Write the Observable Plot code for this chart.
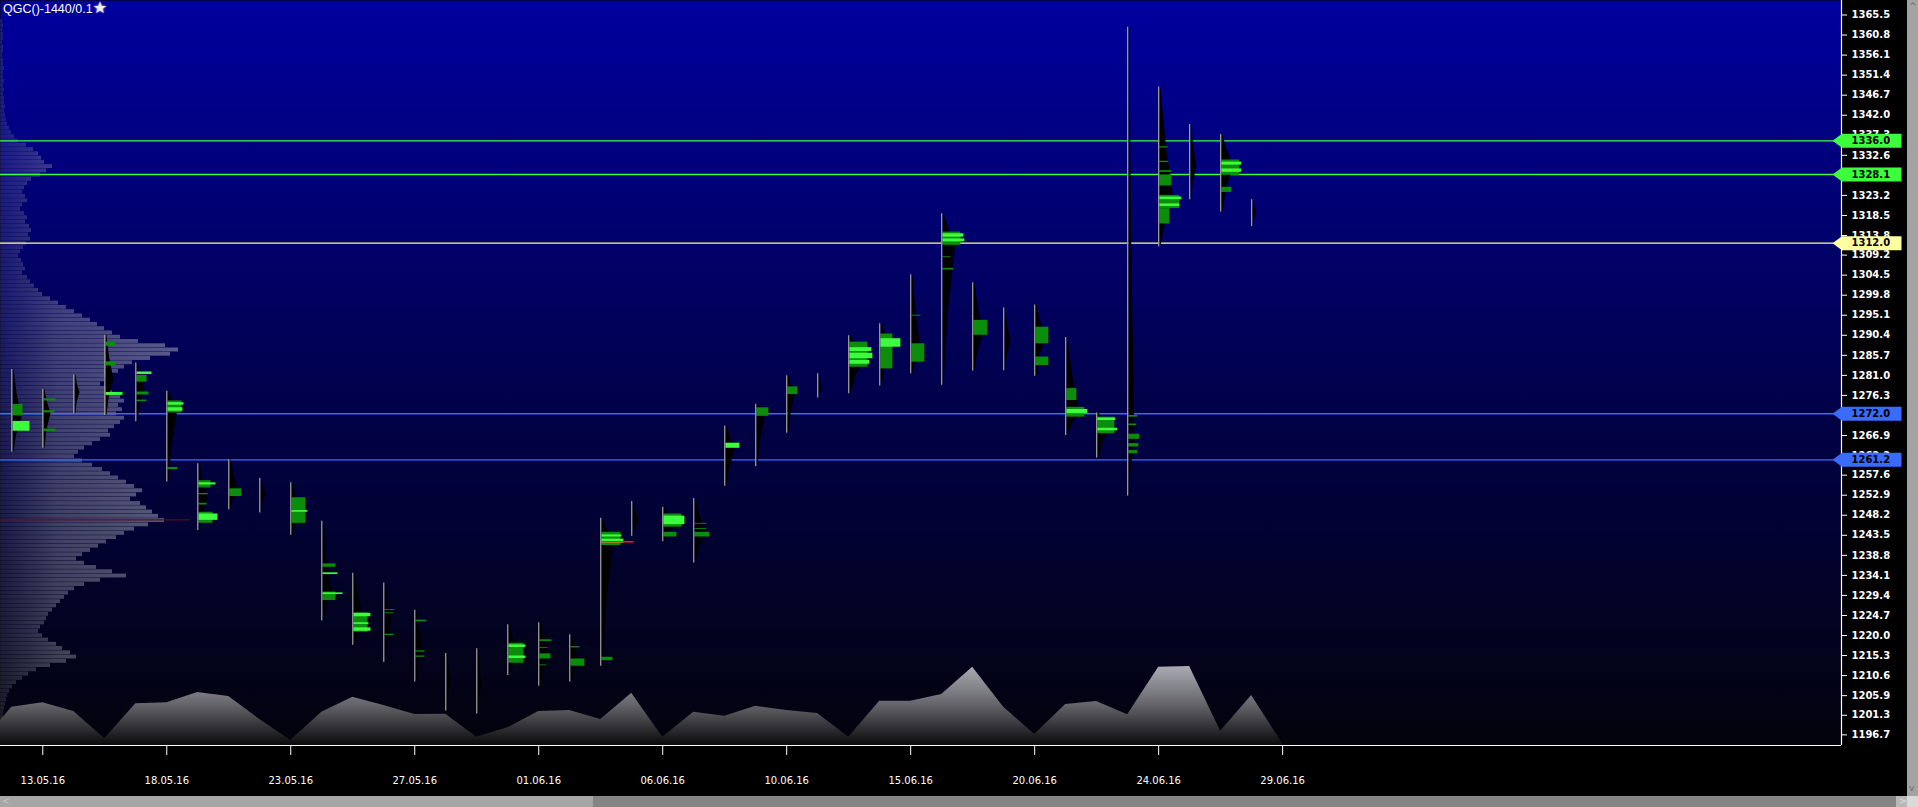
<!DOCTYPE html>
<html><head><meta charset="utf-8">
<script src="https://cdn.jsdelivr.net/npm/d3@7"></script>
<script src="https://cdn.jsdelivr.net/npm/@observablehq/plot@0.6"></script>
<style>
html,body{margin:0;padding:0;background:#000;overflow:hidden;width:1918px;height:807px;}
#wrap{position:relative;width:1918px;height:807px;}
#title{position:absolute;left:3px;top:0px;font:12.5px "Liberation Sans",Arial,sans-serif;color:#fff;line-height:16px;white-space:nowrap;}
#title span{font-family:"DejaVu Sans";color:#ececec;font-size:16px;text-shadow:0 0 2px #fff;}
.sb{position:absolute;}
.arr{position:absolute;font:9px "DejaVu Sans";color:#6a6a6a;line-height:9px;}
</style></head>
<body><div id="wrap"><div id="chart"></div>
<div id="title">QGC()-1440/0.1<span>★</span></div>
<div class="sb" style="left:1907px;top:0;width:11px;height:796px;background:#a3a3a3"></div>
<div class="arr" style="left:1909px;top:2px">^</div>
<div class="arr" style="left:1909px;top:784px">v</div>
<div class="sb" style="left:0;top:796px;width:1907px;height:11px;background:#858585"></div>
<div class="sb" style="left:0;top:796px;width:593px;height:11px;background:#a6a6a6"></div>
<div class="sb" style="left:1896px;top:796px;width:11px;height:11px;background:#b8b8b8"></div>
<div class="arr" style="left:1899px;top:797px;color:#ddd">&gt;</div>
<div class="arr" style="left:2px;top:797px;color:#ccc">&lt;</div>
<div class="sb" style="left:1907px;top:796px;width:11px;height:11px;background:#dadada"></div>
</div>
<script>
// ---------- data ----------
const barHigh = [1282.4,1277.7,1281.1,1290.4,1283.9,1277.3,1260.3,1261.2,1256.9,1255.8,1246.8,1234.6,1232.3,1225.9,1215.8,1216.9,1222.5,1223.0,1220.2,1247.5,1251.4,1250.1,1252.1,1269.1,1274.2,1280.9,1281.4,1290.3,1293.1,1304.6,1318.9,1302.7,1296.8,1297.5,1289.9,1272.2,1362.6,1348.6,1339.8,1337.5,1322.2];
const barLow  = [1263.0,1263.9,1272.0,1271.6,1270.1,1256.0,1244.6,1249.5,1248.7,1243.5,1223.4,1217.7,1213.7,1209.1,1202.3,1201.6,1210.6,1208.1,1209.1,1212.8,1243.3,1242.0,1237.0,1255.0,1259.6,1267.4,1275.7,1276.7,1278.5,1281.4,1278.7,1282.0,1282.1,1280.8,1266.9,1261.6,1252.7,1311.1,1322.2,1319.3,1315.9];
const barPoc  = [1271,1272,1277,1280,1278,1273,1252,1254,1253,1249,1230,1223,1224,1218,1209,1209,1216,1216,1214,1242,1247,1246,1244,1264,1272,1277,1278,1285,1288,1286,1312,1291,1289,1290,1272,1269,1266,1322,1330,1330,1319];
const barPocVol = [9,7,5,8,8,10,9,9,5,10,9,11,7,7,4,4,10,9,9,12,6,13,11,10,9,8,4,15,12,10,13,10,6,10,13,13,6,14,6,12,4];

// green profile segments: [bar, priceTop, priceBottom, volume, shade(1 dark, 2 bright)]
const greenSegs = [
 [0,1274.2,1271.5,10,1],[0,1270.2,1267.9,17,2],
 [1,1275.5,1275.0,12,1],[1,1272.7,1272.2,11,1],[1,1268.4,1267.8,12,1],
 [3,1288.8,1287.8,10,1],[3,1284.2,1283.2,10,1],[3,1277.0,1276.3,17,2],
 [4,1281.8,1281.2,15,2],[4,1281.0,1279.4,10,1],[4,1277.1,1276.4,12,1],[4,1275.2,1274.8,10,1],
 [5,1275.0,1272.2,14,1],[5,1274.6,1274.0,16,2],[5,1273.4,1272.6,15,2],[5,1259.4,1258.9,10,1],
 [6,1256.3,1254.6,12,1],[6,1255.8,1255.3,17,2],[6,1253.3,1253.0,9,1],[6,1251.0,1250.6,8,1],[6,1248.9,1246.3,14,1],[6,1248.5,1247.0,19,2],
 [7,1254.4,1252.6,12,1],
 [9,1252.3,1246.3,14,1],[9,1249.3,1248.9,16,2],
 [10,1236.8,1236.0,13,1],[10,1234.7,1234.3,15,2],[10,1230.2,1228.2,13,1],[10,1230.0,1229.6,20,2],
 [11,1225.3,1220.8,14,1],[11,1225.2,1224.4,17,2],[11,1223.0,1222.6,15,2],[11,1221.8,1221.0,17,2],
 [12,1226.1,1225.9,10,1],[12,1225.3,1225.1,9,1],[12,1220.3,1220.0,9,1],
 [13,1223.6,1223.2,11,1],[13,1216.4,1216.1,9,1],[13,1215.2,1214.9,9,1],
 [16,1218.2,1213.5,15,1],[16,1217.8,1217.2,17,2],[16,1215.2,1214.6,17,2],
 [17,1219.0,1218.6,12,1],[17,1217.2,1217.0,8,1],[17,1215.7,1214.5,11,1],[17,1213.1,1212.9,7,1],
 [18,1217.4,1217.1,9,1],[18,1214.5,1212.8,14,1],
 [19,1244.2,1241.1,19,1],[19,1243.6,1243.1,20,2],[19,1242.6,1241.6,22,2],[19,1214.9,1214.1,11,1],
 [21,1248.5,1245.4,18,1],[21,1248.0,1246.0,21,2],[21,1244.2,1243.1,13,1],
 [22,1246.3,1246.1,12,1],[22,1245.1,1244.9,12,1],[22,1244.2,1243.1,15,1],
 [23,1265.1,1263.9,14,2],
 [24,1273.4,1271.4,12,1],
 [25,1278.3,1276.5,10,1],
 [27,1288.8,1282.9,18,1],[27,1287.5,1286.6,22,2],[27,1286.2,1284.9,23,2],[27,1284.5,1283.6,20,2],
 [28,1290.7,1282.5,12,1],[28,1289.6,1287.6,20,2],
 [29,1288.4,1284.1,13,1],[29,1295.1,1294.9,9,1],
 [30,1314.6,1311.5,18,1],[30,1314.2,1313.4,21,2],[30,1313.0,1312.3,22,2],[30,1308.8,1308.6,8,1],[30,1306.1,1305.7,11,1],
 [31,1293.9,1290.4,14,1],
 [33,1292.3,1288.4,13,1],[33,1285.3,1283.3,13,1],
 [34,1277.9,1275.1,10,1],[34,1273.5,1271.2,18,1],[34,1273.0,1272.0,21,2],
 [35,1271.2,1267.3,17,1],[35,1271.0,1270.4,18,2],[35,1268.6,1268.0,20,2],
 [36,1271.6,1271.2,9,1],[36,1269.6,1269.2,8,1],[36,1267.2,1266.0,11,1],[36,1265.0,1264.2,10,1],[36,1263.4,1262.6,9,1],
 [37,1334.6,1334.3,8,1],[37,1331.2,1330.9,9,1],[37,1329.0,1328.6,12,1],[37,1328.0,1325.4,12,1],[37,1323.2,1320.1,20,1],[37,1322.8,1322.2,22,2],[37,1321.2,1320.6,20,2],[37,1320.1,1316.5,10,1],
 [39,1331.5,1327.9,18,1],[39,1331.0,1330.3,20,2],[39,1329.4,1328.6,20,2],[39,1325.1,1323.9,10,1]
];
// session point-of-control marks: [bar, price, volume]
const pocMarks = [[19,1242.0,32]];

// daily volume (index -1 .. 41)
const volIdx = [-1,0,1,2,3,4,5,6,7,8,9,10,11,12,13,14,15,16,17,18,19,20,21,22,23,24,25,26,27,28,29,30,31,32,33,34,35,36,37,38,39,40,41];
const volume = [2,38.3,42.7,34,6.7,41.7,42.7,53,49,26,5,33.3,48.3,40,31,31.3,8.3,17.7,34,35,26,52.3,8.3,33.3,29.3,39.3,35,32,8.3,44.3,44.3,51,78.3,38.3,11,41,44,30.7,78.3,79,14.3,50,1.7];

// composite volume profile (price, volume)
const compPrice = [1364,1363,1362,1361,1360,1359,1358,1357,1356,1355,1354,1353,1352,1351,1350,1349,1348,1347,1346,1345,1344,1343,1342,1341,1340,1339,1338,1337,1336,1335,1334,1333,1332,1331,1330,1329,1328,1327,1326,1325,1324,1323,1322,1321,1320,1319,1318,1317,1316,1315,1314,1313,1312,1311,1310,1309,1308,1307,1306,1305,1304,1303,1302,1301,1300,1299,1298,1297,1296,1295,1294,1293,1292,1291,1290,1289,1288,1287,1286,1285,1284,1283,1282,1281,1280,1279,1278,1277,1276,1275,1274,1273,1272,1271,1270,1269,1268,1267,1266,1265,1264,1263,1262,1261,1260,1259,1258,1257,1256,1255,1254,1253,1252,1251,1250,1249,1248,1247,1246,1245,1244,1243,1242,1241,1240,1239,1238,1237,1236,1235,1234,1233,1232,1231,1230,1229,1228,1227,1226,1225,1224,1223,1222,1221,1220,1219,1218,1217,1216,1215,1214,1213,1212,1211,1210,1209,1208,1207,1206,1205,1204,1203,1202,1201,1200];
const compVol = [2,3,2,3,3,2,3,3,2,3,3,4,3,3,4,3,4,3,4,4,5,4,5,6,7,9,11,14,18,26,33,38,41,44,52,46,40,31,27,24,22,25,27,22,20,24,27,25,29,31,28,30,26,23,20,18,21,23,25,22,27,30,34,38,42,50,58,66,74,82,90,97,104,112,120,138,165,178,170,150,132,124,118,110,104,100,106,112,120,124,118,122,116,124,120,114,108,110,100,92,84,78,74,82,92,102,110,118,126,134,142,136,130,140,146,152,158,164,148,134,124,116,106,98,90,82,76,84,96,112,126,100,84,74,68,64,60,56,52,48,46,44,40,38,42,48,56,62,70,76,66,50,36,28,22,16,12,9,7,6,5,4,3,3,2];
const compPoc = [{p: 1247.1, v: 190}];

// key levels
const levelPrice = [1336.0, 1328.1, 1312.0, 1272.0, 1261.2];
const levelColor = ["#3cff3c", "#3cff3c", "#ffffa0", "#3a6bff", "#3a6bff"];

// axis ticks
const priceTicks = [1365.5,1360.8,1356.1,1351.4,1346.7,1342.0,1337.3,1332.6,1327.9,1323.2,1318.5,1313.8,1309.2,1304.5,1299.8,1295.1,1290.4,1285.7,1281.0,1276.3,1271.6,1266.9,1262.2,1257.6,1252.9,1248.2,1243.5,1238.8,1234.1,1229.4,1224.7,1220.0,1215.3,1210.6,1205.9,1201.3,1196.7];
const dateTickIdx = [1,5,9,13,17,21,25,29,33,37,41];
const dateLabels = ["13.05.16","18.05.16","23.05.16","27.05.16","01.06.16","06.06.16","10.06.16","15.06.16","20.06.16","24.06.16","29.06.16"];

// ---------- layout ----------
const X_DOMAIN = [-0.3645, 59.03];
const Y_DOMAIN = [1194.21, 1368.90];
const VOL_PER_BAR = 31;          // profile volume units per bar slot
const GAP = 1.2 / VOL_PER_BAR;
const PRICE_PER_VOL = 1 / 4.2647; // volume panel scaling into price space

const bars = barHigh.map((h, i) => ({i, high: h, low: barLow[i]}));
// each session's background profile: thin at the extremes, widest at its POC
const blackPts = barHigh.flatMap((h, i) => {
  const lo = barLow[i], poc = barPoc[i], w = barPocVol[i];
  return [
    {bar: i, p: h, w: 1},
    {bar: i, p: (h + poc) / 2, w: w * 0.45},
    {bar: i, p: poc, w},
    {bar: i, p: (poc + lo) / 2, w: w * 0.4},
    {bar: i, p: lo, w: 1}
  ];
});
const greens = greenSegs.map(([bar, t, b, v, s]) => ({bar, t, b, v, s})).sort((a, b) => a.s - b.s);
const shadeColor = {1: "#0b8c0b", 2: "#3dfc3d"};
const pocs = pocMarks.map(([bar, p, v]) => ({bar, p, v}));
const vols = volIdx.map((i, k) => ({i, v: volume[k]}));
const comp = compPrice.map((p, k) => ({p, v: compVol[k]}));
const levels = levelPrice.map((p, k) => ({p, c: levelColor[k], label: p.toFixed(1)}));
const dateMap = new Map(dateTickIdx.map((d, k) => [d, dateLabels[k]]));
const priceMap = new Map(priceTicks.map(d => [d, d.toFixed(1)]));

const tagSymbol = {draw(ctx) {
  ctx.moveTo(-34.5, 0); ctx.lineTo(-25, -7); ctx.lineTo(34.5, -7);
  ctx.lineTo(34.5, 7); ctx.lineTo(-25, 7); ctx.closePath();
}};

const chart = Plot.plot({
  width: 1918, height: 807,
  marginLeft: 0, marginRight: 77, marginTop: 0, marginBottom: 62,
  style: {background: "#000", color: "#fff", fontFamily: "DejaVu Sans", fontSize: "10px", overflow: "visible"},
  x: {domain: X_DOMAIN, label: null},
  y: {domain: Y_DOMAIN, label: null},
  color: {type: "identity"},
  marks: [
    Plot.frame({fill: "url(#bgGrad)", stroke: null}),
    Plot.rect(comp, {x1: () => X_DOMAIN[0], x2: d => X_DOMAIN[0] + d.v / VOL_PER_BAR,
      y1: d => d.p - 0.5, y2: d => d.p + 0.5, insetTop: 0.4, fill: "url(#profGrad)"}),
    Plot.ruleY(compPoc, {y: "p", x1: () => X_DOMAIN[0], x2: d => X_DOMAIN[0] + d.v / VOL_PER_BAR, stroke: "#5c0c22", strokeWidth: 1.2}),
    Plot.areaY(vols, {x: "i", y1: () => Y_DOMAIN[0], y2: d => Y_DOMAIN[0] + d.v * PRICE_PER_VOL, fill: "url(#volGrad)", clip: true}),
    Plot.ruleY(levels, {y: "p", stroke: "c", strokeWidth: 1.3}),
    Plot.areaX(blackPts, {y: "p", x1: d => d.bar + GAP, x2: d => d.bar + GAP + d.w / VOL_PER_BAR, z: "bar", fill: "#000"}),
    Plot.rect(greens, {x1: d => d.bar + GAP, x2: d => d.bar + GAP + d.v / VOL_PER_BAR, y1: "b", y2: "t", fill: d => shadeColor[d.s]}),
    Plot.ruleY(pocs, {y: "p", x1: d => d.bar + GAP, x2: d => d.bar + GAP + d.v / VOL_PER_BAR, stroke: "#ff1a1a", strokeWidth: 1.6}),
    Plot.ruleX(bars, {x: "i", y1: "low", y2: "high", stroke: "#9a9a9a", strokeWidth: 1.3}),
    Plot.ruleX([X_DOMAIN[1]], {stroke: "#fff", strokeWidth: 1.2}),
    Plot.ruleY([Y_DOMAIN[0]], {stroke: "#fff", strokeWidth: 1.2}),
    Plot.axisY({ticks: priceTicks, anchor: "right", label: null, tickSize: 5, tickPadding: 5,
      tickFormat: d => priceMap.get(d), color: "#fff", fontWeight: "bold", fontSize: 10, fontFamily: "DejaVu Sans"}),
    Plot.axisX({ticks: dateTickIdx, anchor: "bottom", label: null, tickSize: 10, tickPadding: 21,
      tickFormat: d => dateMap.get(d), color: "#fff", fontSize: 10, fontFamily: "DejaVu Sans"}),
    Plot.dot(levels, {y: "p", frameAnchor: "right", dx: 25.5, symbol: tagSymbol, fill: "c", stroke: null, r: 5}),
    Plot.text(levels, {y: "p", text: "label", frameAnchor: "right", dx: 10, textAnchor: "start",
      fill: "#000", fontWeight: "bold", fontSize: 10, fontFamily: "DejaVu Sans"})
  ]
});

const defs = d3.select(chart).insert("defs", ":first-child");
const bg = defs.append("linearGradient").attr("id", "bgGrad").attr("gradientUnits", "userSpaceOnUse")
  .attr("x1", 0).attr("y1", 0).attr("x2", 0).attr("y2", 745);
bg.append("stop").attr("offset", 0).attr("stop-color", "rgb(0,0,158)");
bg.append("stop").attr("offset", 0.55).attr("stop-color", "rgb(1,1,72)");
bg.append("stop").attr("offset", 1).attr("stop-color", "rgb(3,3,12)");
const vg = defs.append("linearGradient").attr("id", "volGrad").attr("gradientUnits", "userSpaceOnUse")
  .attr("x1", 0).attr("y1", 662).attr("x2", 0).attr("y2", 745);
vg.append("stop").attr("offset", 0).attr("stop-color", "#b2b2ba");
vg.append("stop").attr("offset", 0.5).attr("stop-color", "#66666c");
vg.append("stop").attr("offset", 1).attr("stop-color", "#0a0a0c");
const pg = defs.append("linearGradient").attr("id", "profGrad").attr("gradientUnits", "userSpaceOnUse")
  .attr("x1", 0).attr("y1", 0).attr("x2", 190).attr("y2", 0);
pg.append("stop").attr("offset", 0).attr("stop-color", "rgb(130,130,150)").attr("stop-opacity", 0.2);
pg.append("stop").attr("offset", 0.3).attr("stop-color", "rgb(150,150,168)").attr("stop-opacity", 0.42);
pg.append("stop").attr("offset", 1).attr("stop-color", "rgb(170,170,185)").attr("stop-opacity", 0.55);

document.getElementById("chart").appendChild(chart);
</script>
</body></html>
